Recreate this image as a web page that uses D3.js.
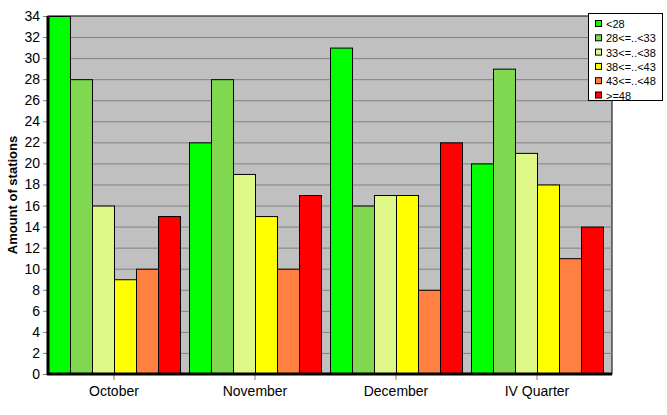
<!DOCTYPE html>
<html><head><meta charset="utf-8">
<script src="https://cdn.jsdelivr.net/npm/d3@7"></script>
<style>body{margin:0;background:#fff}text{font-family:"Liberation Sans",Arial,sans-serif}</style>
</head><body><svg id="c" width="667" height="415"></svg>
<script>
var categories = ["October", "November", "December", "IV Quarter"];
var seriesNames = ["<28", "28<=..<33", "33<=..<38", "38<=..<43", "43<=..<48", ">=48"];
var seriesColors = ["#00ff00", "#80d850", "#e0f888", "#ffff00", "#ff8040", "#ff0000"];
var values = [
    [34, 28, 16, 9, 10, 15],
    [22, 28, 19, 15, 10, 17],
    [31, 16, 17, 17, 8, 22],
    [20, 29, 21, 18, 11, 14]
];
var yTicks = d3.range(0, 35, 2);

var svg = d3.select("#c");
// note: "top" clashes with window.top, so use plotTop/plotBottom
var plotLeft = 48, plotRight = 612, plotTop = 16, plotBottom = 374;

var x = d3.scaleBand().domain(categories).range([plotLeft, plotRight]).paddingInner(0).paddingOuter(0);
var barW = (x.bandwidth() - 9) / seriesNames.length;
var y = d3.scaleLinear().domain([0, 34]).range([plotBottom, plotTop]);

svg.append("rect").attr("x", plotLeft).attr("y", plotTop).attr("width", plotRight - plotLeft)
    .attr("height", plotBottom - plotTop).attr("fill", "#c0c0c0").attr("stroke", "#000");

// gridlines
svg.selectAll(".grid").data(yTicks.filter(function(d) { return d > 0 && d < 34; })).enter()
    .append("line").attr("x1", plotLeft).attr("x2", plotRight)
    .attr("y1", function(d) { return y(d) + 0.5; }).attr("y2", function(d) { return y(d) + 0.5; })
    .attr("stroke", "#808080");

// bars
var groups = svg.selectAll(".g").data(values).enter().append("g")
    .attr("transform", function(d, i) { return "translate(" + x(categories[i]) + ",0)"; });
groups.selectAll("rect").data(function(d) { return d; }).enter().append("rect")
    .attr("x", function(d, j) { return j * barW + 0.5; })
    .attr("y", function(d) { return y(d) + 0.5; })
    .attr("width", barW)
    .attr("height", function(d) { return plotBottom - y(d); })
    .attr("fill", function(d, j) { return seriesColors[j]; })
    .attr("stroke", "#000");

// y axis
var yAxis = svg.append("g").attr("transform", "translate(" + plotLeft + ",0)")
    .call(d3.axisLeft(y).tickValues(yTicks).tickSize(5).tickPadding(3));
yAxis.select(".domain").remove();
yAxis.selectAll("line").attr("stroke", "#808080");
yAxis.selectAll("text").attr("font-size", 14).attr("fill", "#000");
svg.append("line").attr("x1", plotLeft).attr("x2", plotLeft).attr("y1", plotTop).attr("y2", plotBottom + 1)
    .attr("stroke", "#000").attr("stroke-width", 3);

// x axis
var xAxis = svg.append("g").attr("transform", "translate(" + (-x.bandwidth() / 2 + 3 * barW) + "," + plotBottom + ")")
    .call(d3.axisBottom(x).tickSize(6).tickPadding(6));
xAxis.select(".domain").remove();
xAxis.selectAll("line").attr("stroke", "#808080");
xAxis.selectAll("text").attr("font-size", 14).attr("fill", "#000");
svg.append("line").attr("x1", plotLeft - 1).attr("x2", plotRight).attr("y1", plotBottom).attr("y2", plotBottom)
    .attr("stroke", "#000").attr("stroke-width", 3);

svg.append("text").attr("transform", "translate(17," + ((plotTop + plotBottom) / 2) + ") rotate(-90)")
    .attr("text-anchor", "middle").attr("font-size", 13).attr("font-weight", "bold")
    .text("Amount of stations");

// legend
var lg = svg.append("g").attr("transform", "translate(588,13)");
lg.append("rect").attr("x", 0.5).attr("y", 0.5).attr("width", 74).attr("height", 87)
    .attr("fill", "#fff").attr("stroke", "#000");
var items = lg.selectAll(".it").data(seriesNames).enter().append("g")
    .attr("transform", function(d, i) { return "translate(0," + (7 + i * 14.3) + ")"; });
items.append("rect").attr("x", 7.5).attr("y", 0.5).attr("width", 6).attr("height", 6)
    .attr("fill", function(d, i) { return seriesColors[i]; }).attr("stroke", "#000");
items.append("text").attr("x", 18).attr("y", 8).attr("font-size", 11).text(function(d) { return d; });
</script></body></html>
